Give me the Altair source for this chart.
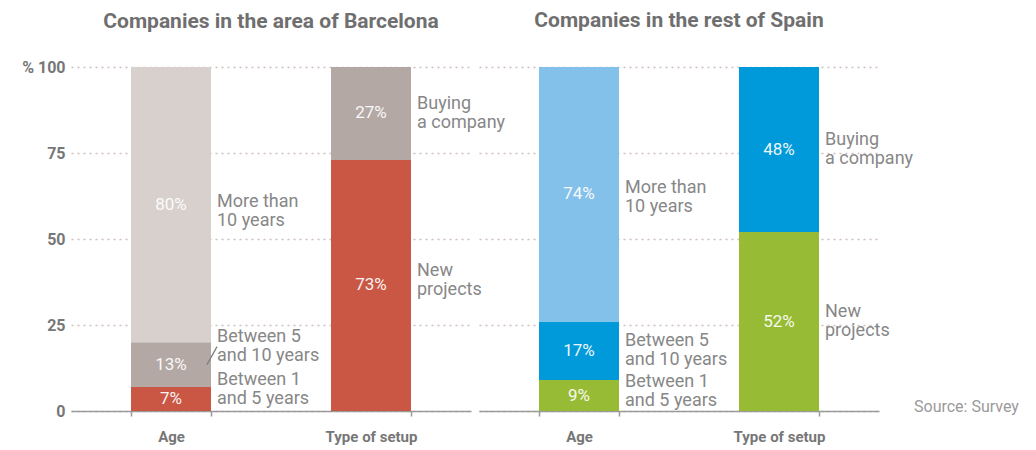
import altair as alt
import pandas as pd

# ---------------- data ----------------
categories = ["Age", "Age", "Age", "Type of setup", "Type of setup"]
segments = ["Between 1\nand 5 years", "Between 5\nand 10 years", "More than\n10 years",
            "New\nprojects", "Buying\na company"]
bcn_values = [7, 13, 80, 73, 27]
spain_values = [9, 17, 74, 52, 48]
panel_titles = ["Companies in the area of Barcelona", "Companies in the rest of Spain"]
source_text = "Source: Survey"

# ---------------- style ----------------
bcn_colors = ["#C95744", "#B3A8A4", "#D8D0CD", "#C95744", "#B3A8A4"]
spain_colors = ["#97BB35", "#009ADA", "#84C1EA", "#97BB35", "#009ADA"]
# vertical nudges of side labels, in pixels (negative = up)
bcn_nudge = [-9, -18, 7, -5, 0]
spain_nudge = [-4, 0, 3, 0, 0]

W, H = 400, 344
FONT = "Roboto"
GRAY = "#777777"
ANN_GRAY = "#878787"
LINE_H = 19


def build_df(values, colors, nudges):
    rows = []
    start = {}
    for cat, seg, v, c, n in zip(categories, segments, values, colors, nudges):
        s = start.get(cat, 0)
        e = s + v
        start[cat] = e
        mid = (s + e) / 2
        rows.append(dict(cat=cat, seg=seg, start=s, end=e, mid=mid,
                         lab=mid - n * 100.0 / H, pct=f"{v}%", color=c))
    return pd.DataFrame(rows)


cat_order = ["Age", "Type of setup"]


def panel(df, title, first):
    x = alt.X("cat:N", sort=cat_order,
              scale=alt.Scale(paddingInner=0.6, paddingOuter=0.3),
              axis=alt.Axis(title=None, labelAngle=0, tickBand="extent",
                            domainColor="#9a9a9a", domainWidth=1.5,
                            tickColor="#9a9a9a", tickWidth=1.5, tickSize=5,
                            labelFont=FONT, labelFontWeight="bold",
                            labelFontSize=15, labelColor=GRAY, labelPadding=13))
    if first:
        yaxis = alt.Axis(title=None, values=[0, 25, 50, 75, 100],
                         labelExpr="datum.value == 100 ? '% 100' : datum.label",
                         labelFont=FONT, labelFontWeight="bold", labelFontSize=16,
                         labelColor=GRAY, labelPadding=6, ticks=False, domain=False,
                         grid=True)
    else:
        yaxis = alt.Axis(title=None, values=[0, 25, 50, 75, 100], labels=False,
                         ticks=False, domain=False, grid=True)
    y = alt.Y("start:Q", scale=alt.Scale(domain=[0, 100], nice=False), axis=yaxis)

    base = alt.Chart(df)
    bars = base.mark_bar().encode(x=x, y=y, y2="end:Q",
                                  color=alt.Color("color:N", scale=None))
    pct = base.mark_text(font=FONT, fontSize=17, color="white", opacity=0.92).encode(
        x=alt.X("cat:N", sort=cat_order), y=alt.Y("mid:Q"), text="pct:N")
    ann = base.mark_text(font=FONT, fontSize=18, color=ANN_GRAY, align="left",
                         baseline="middle", dx=46, dy=-LINE_H / 2, lineBreak="\n",
                         lineHeight=LINE_H).encode(
        x=alt.X("cat:N", sort=cat_order), y=alt.Y("lab:Q"), text="seg:N")
    layers = [bars, pct, ann]
    if first:
        lead = base.transform_filter(
            alt.datum.seg == segments[1]).mark_rule(color="#808080", strokeWidth=1.3).encode(
            x=alt.value(136), x2=alt.value(146), y="mid:Q", y2="lab:Q")
        layers.append(lead)
        title_offset = 27
    else:
        src = alt.Chart(pd.DataFrame({"t": [source_text]})).mark_text(
            font=FONT, fontSize=16, color="#9a9a9a", align="left", baseline="middle").encode(
            x=alt.value(W + 35), y=alt.value(H - 4), text="t:N")
        layers.append(src)
        title_offset = 36
    return alt.layer(*layers).properties(
        width=W, height=H,
        title=alt.TitleParams(title, font=FONT, fontSize=21, fontWeight="bold",
                              color="#6f6f6f", anchor="middle", offset=title_offset))


bcn = build_df(bcn_values, bcn_colors, bcn_nudge)
spain = build_df(spain_values, spain_colors, spain_nudge)

chart = alt.hconcat(panel(bcn, panel_titles[0], True),
                    panel(spain, panel_titles[1], False),
                    spacing=8, bounds="flush").properties(
    padding={"left": 13, "top": 2, "right": 5, "bottom": 5}
).configure_view(stroke=None).configure_axis(
    gridColor="#cdbebe", gridDash=[2, 4], gridWidth=1.6)

chart.save("out.html", embed_options={"renderer": "svg", "actions": False})
